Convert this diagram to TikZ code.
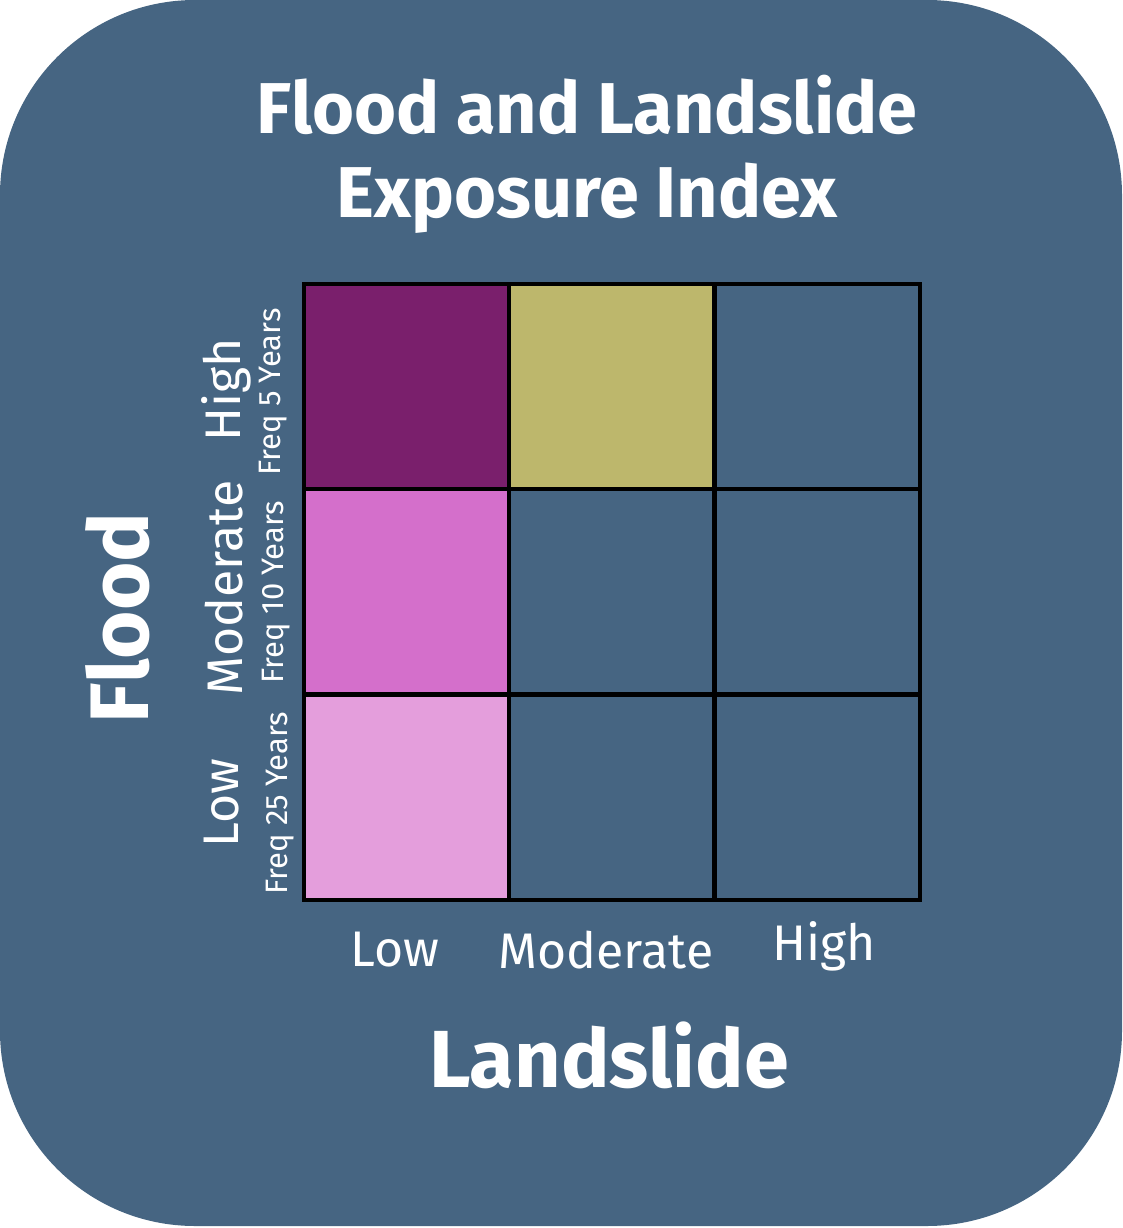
\documentclass[tikz,border=0pt]{standalone}
\usepackage{fontspec}
\setmainfont{Fira Sans}
\definecolor{bg}{HTML}{466582}
\definecolor{dpurple}{HTML}{7A1F6C}
\definecolor{olive}{HTML}{BDB76C}
\definecolor{magenta}{HTML}{D46FCB}
\definecolor{lpink}{HTML}{E49EDC}
\begin{document}
\begin{tikzpicture}[x=1pt,y=-1pt,
  cell/.style={draw=black,line width=4pt,minimum width=205pt,minimum height=205pt,inner sep=0pt,anchor=north west},
  lbl/.style={text=white,inner sep=0pt},
  big/.style={lbl,font=\fontsize{72}{86}\selectfont\bfseries},
  mid/.style={lbl,font=\fontsize{50}{58}\selectfont},
  small/.style={lbl,font=\fontsize{31}{36}\selectfont}]
\useasboundingbox (0,0) rectangle (1122,1228);
\fill[bg,rounded corners=195pt] (0,0) rectangle (1122,1226);
\node[big,align=center] (title) at (587,154) {Flood and Landslide\\[-2pt]Exposure Index};
% grid
\node[cell,fill=dpurple] (c13) at (302,282) {};
\node[cell,fill=olive] (c23) at (507.3,282) {};
\node[cell,fill=bg] (c33) at (712.6,282) {};
\node[cell,fill=magenta] (c12) at (302,487.3) {};
\node[cell,fill=bg] (c22) at (507.3,487.3) {};
\node[cell,fill=bg] (c32) at (712.6,487.3) {};
\node[cell,fill=lpink] (c11) at (302,692.6) {};
\node[cell,fill=bg] (c21) at (507.3,692.6) {};
\node[cell,fill=bg] (c31) at (712.6,692.6) {};
% bottom labels
\node[mid] (xl) at (395,950) {Low};
\node[mid] (xm) at (606,950) {Moderate};
\node[mid] (xh) at (824,946) {High};
\node[lbl,font=\fontsize{81}{90}\selectfont\bfseries] (xlab) at (609,1055) {Landslide};
% left labels
\node[lbl,font=\fontsize{83}{90}\selectfont\bfseries,rotate=90] (ylab) at (118,618) {Flood};
\node[mid,rotate=90] (yh) at (226,390) {High};
\node[mid,rotate=90] (ym) at (224,588) {Moderate};
\node[mid,rotate=90] (yl) at (222,803) {Low};
\node[small,rotate=90] (fh) at (273,392) {Freq 5 Years};
\node[small,rotate=90] (fm) at (276,592) {Freq 10 Years};
\node[small,rotate=90] (fl) at (280,803) {Freq 25 Years};
\end{tikzpicture}
\end{document}
